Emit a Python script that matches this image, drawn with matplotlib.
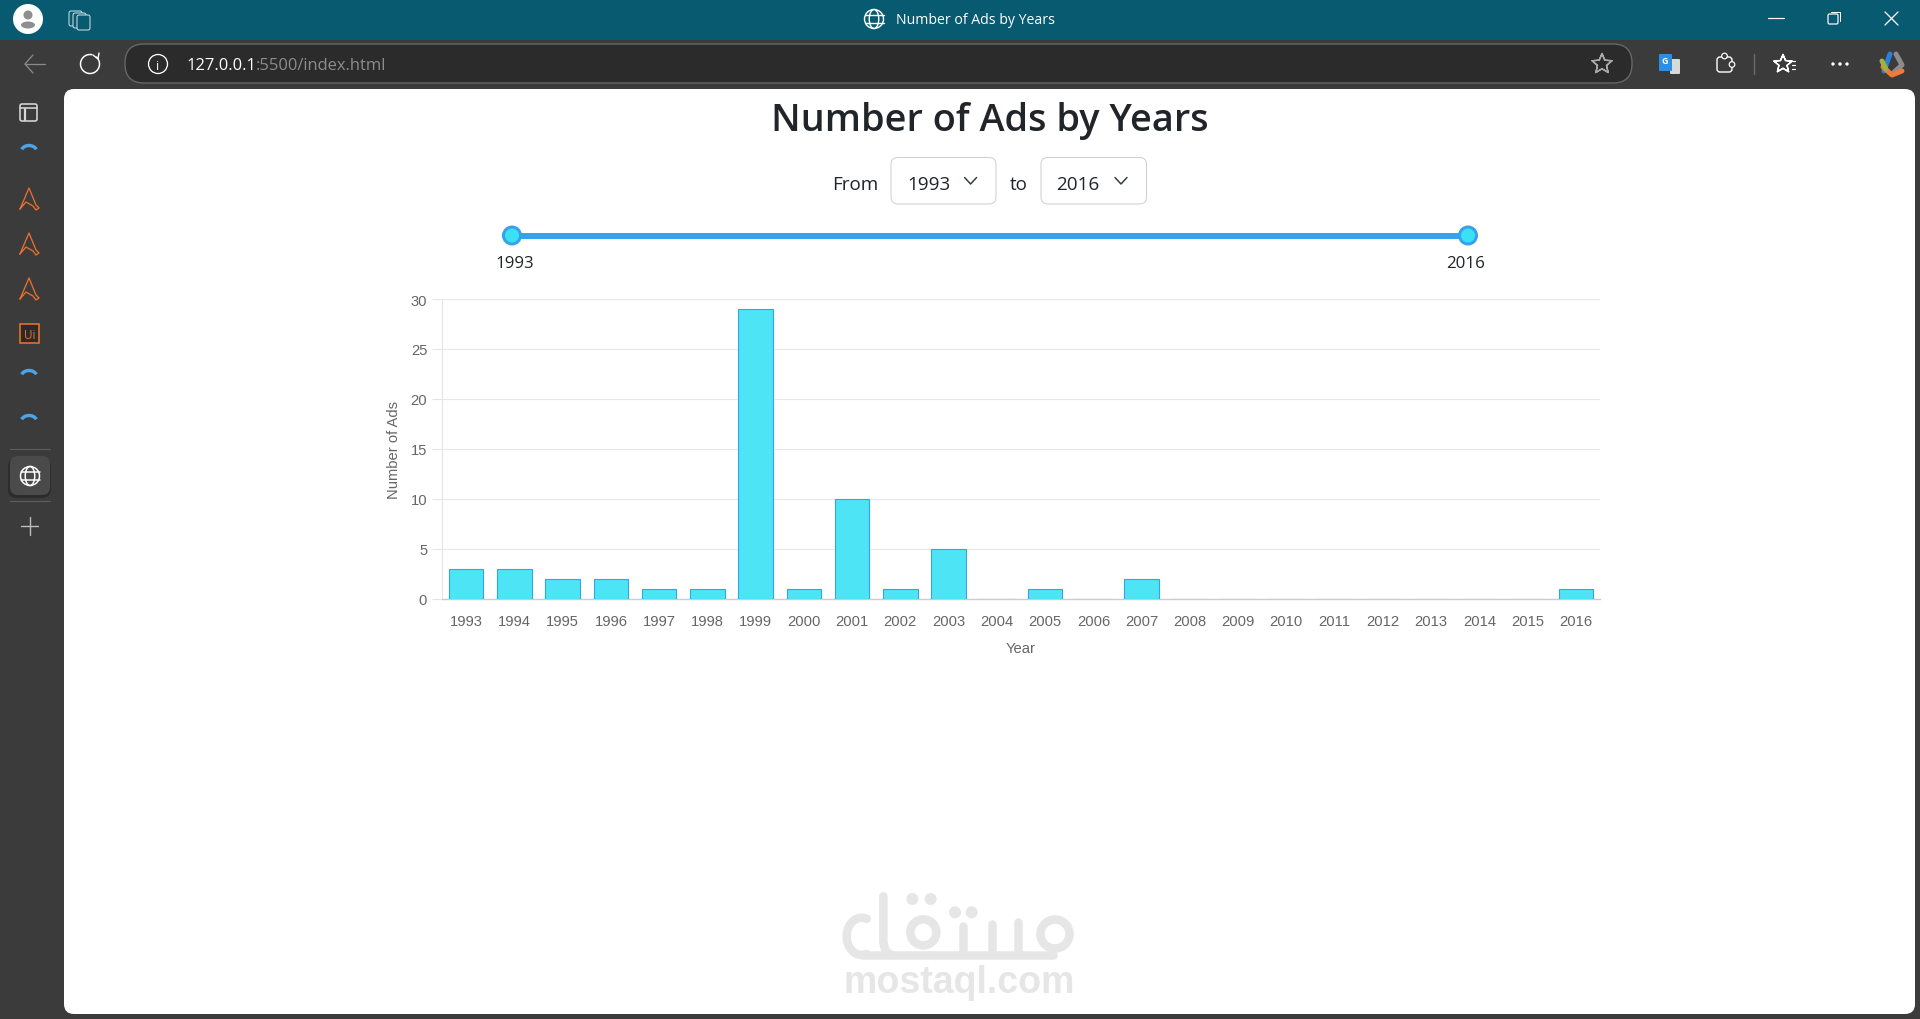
import numpy as np
import matplotlib
matplotlib.use("Agg")
import matplotlib.pyplot as plt
from matplotlib.patches import Circle, Ellipse, FancyBboxPatch, Rectangle, Arc

years = ["1993", "1994", "1995", "1996", "1997", "1998", "1999", "2000", "2001", "2002", "2003", "2004",
         "2005", "2006", "2007", "2008", "2009", "2010", "2011", "2012", "2013", "2014", "2015", "2016"]
ads = [3, 3, 2, 2, 1, 1, 29, 1, 10, 1, 5, 0, 1, 0, 2, 0, 0, 0, 0, 0, 0, 0, 0, 1]
y_ticks = [0, 5, 10, 15, 20, 25, 30]

W, H = 1920, 1020
PX = 0.72  # one pixel in points at dpi 100

ui_font = ["Open Sans", "DejaVu Sans"]
chart_font = ["Liberation Sans", "DejaVu Sans"]

fig = plt.figure(figsize=(W / 100, H / 100), dpi=100, facecolor="#3b3b3b")

# full window layer in pixel coordinates
bg = fig.add_axes([0, 0, 1, 1], zorder=0)
bg.set_xlim(0, W)
bg.set_ylim(H, 0)
bg.axis("off")


def box(x0, y0, x1, y1, r, fc, ec="none", lw=0, z=1):
    bg.add_patch(FancyBboxPatch((x0 + r, y0 + r), x1 - x0 - 2 * r, y1 - y0 - 2 * r,
                                boxstyle="round,pad=%g,rounding_size=%g" % (r, r),
                                fc=fc, ec=ec, lw=lw * PX, zorder=z))


def line(xs, ys, c, lw=1.5, z=3, cap="round"):
    bg.plot(xs, ys, color=c, lw=lw * PX, solid_capstyle=cap, solid_joinstyle="round", zorder=z)


def globe(x, y, r, c="white", lw=1.4):
    bg.add_patch(Circle((x, y), r, fc="none", ec=c, lw=lw * PX, zorder=4))
    bg.add_patch(Ellipse((x, y), r, 2 * r, fc="none", ec=c, lw=lw * PX, zorder=4))
    line([x - r, x + r], [y - r * 0.38, y - r * 0.38], c, lw, 4)
    line([x - r, x + r], [y + r * 0.38, y + r * 0.38], c, lw, 4)


def star(x, y, r, c, lw=1.4):
    ang = np.deg2rad(np.arange(-90, 631, 36))
    rad = np.where(np.arange(len(ang)) % 2 == 0, r, r * 0.45)
    line(x + rad * np.cos(ang), y + rad * np.sin(ang), c, lw, 4)


def arc_icon(x, y):
    # small dotted blue arc in the side bar
    bg.add_patch(Arc((x, y + 6), 16, 13, theta1=200, theta2=340, color="#4da3e6", lw=3.4 * PX, zorder=4))


def acrobat(x, y):
    c = "#e8702e"
    line([x - 9, x, x + 7, x + 10, x + 7, x + 4, x - 3, x - 9],
         [y + 10, y - 11, y + 6, y + 9, y + 11, y + 7, y + 3, y + 10], c, 1.3, 4)


# title bar, tool bar and page
bg.add_patch(Rectangle((0, 0), W, 40.5, fc="#075a70", ec="none", zorder=1))
box(64, 90, 1915, 1015, 10, "white", z=1)

bg.add_patch(Ellipse((28, 20), 30, 30, fc="white", ec="none", zorder=3))
bg.add_patch(Circle((28, 16), 4.5, fc="#8f8f8f", ec="none", zorder=4))
bg.add_patch(Ellipse((28, 26), 14, 7, fc="#8f8f8f", ec="none", zorder=4))
for dx, dy in [(0, 0), (4, 2), (8, 4)]:
    box(69 + dx, 12 + dy, 82 + dx, 27 + dy, 2, "#075a70", ec="#cfe0e4", lw=1, z=3 + dx)
globe(874, 20, 9.5)
bg.text(975, 21, "Number of Ads by Years", color="white", ha="center", va="center", fontsize=10.2, family=ui_font)
line([1768, 1784], [19, 19], "white", 1.2)
box(1828, 15, 1838, 25, 1.5, "none", ec="white", lw=1.2, z=3)
line([1831, 1840, 1840], [13, 13, 22], "white", 1)
line([1885, 1898], [13, 26], "white", 1.3)
line([1885, 1898], [26, 13], "white", 1.3)

# address bar row
line([25, 45], [65, 65], "#8a8a8a", 1.3)
line([33, 25, 33], [56, 65, 74], "#8a8a8a", 1.3)
bg.add_patch(Arc((90, 65), 19, 19, theta1=-50, theta2=285, color="white", lw=1.5 * PX, zorder=4))
line([93, 98, 99], [56, 60, 54], "white", 1.4)
box(125, 45, 1632, 84, 19, "#2b2b2b", ec="#666666", lw=1.4, z=2)
bg.add_patch(Circle((158, 65), 9.5, fc="none", ec="white", lw=1.3 * PX, zorder=4))
bg.text(158, 66, "i", color="white", ha="center", va="center", fontsize=9, family=ui_font)
bg.text(187, 66, "127.0.0.1", color="white", ha="left", va="center", fontsize=11.9, family=ui_font, zorder=4)
bg.text(256, 66, ":5500/index.html", color="#8c8c8c", ha="left", va="center", fontsize=11.9, family=ui_font, zorder=4)
star(1602, 65, 10.5, "#a8a8a8")
box(1659, 55, 1672, 72, 1, "#2b8fe8", z=4)
box(1670, 60, 1680, 75, 1, "#d8d8d8", z=3)
bg.text(1665, 62, "G", color="white", ha="center", va="center", fontsize=6.5, weight="bold", family=ui_font, zorder=5)
box(1717, 58, 1732, 73, 3, "none", ec="white", lw=1.4, z=4)
bg.add_patch(Circle((1724.5, 57), 2.8, fc="#3b3b3b", ec="white", lw=1.2 * PX, zorder=5))
bg.add_patch(Circle((1732, 65.5), 2.8, fc="#3b3b3b", ec="white", lw=1.2 * PX, zorder=5))
line([1754, 1754], [55, 75], "#6a6a6a", 1.4)
star(1783, 65, 9.5, "white")
for yy in [62, 66, 70]:
    line([1792, 1795], [yy, yy], "white", 1.2, 5)
for xx in [1833, 1840, 1847]:
    bg.add_patch(Circle((xx, 65), 1.7, fc="white", ec="none", zorder=4))
for pts, c in [(([1884, 1890], [72, 55]), "#2a7fd8"), (([1896, 1902, 1892], [55, 66, 75]), "#8c8c8c"),
               (([1883, 1892, 1902], [68, 76, 72]), "#ef7a3a"), (([1882, 1886], [62, 70]), "#a3b23a")]:
    line(pts[0], pts[1], c, 5, 4)

# side bar icons
box(20, 105, 37, 122, 2, "none", ec="#d6d6d6", lw=1.6, z=4)
line([25, 25], [110, 121], "#d6d6d6", 2.2)
line([20, 37], [109, 109], "#d6d6d6", 1.6)
arc_icon(29, 147)
acrobat(29, 200)
acrobat(29, 245)
acrobat(29, 290)
bg.add_patch(Rectangle((20, 325), 19, 19, fc="#2b2b2b", ec="#e8702e", lw=1.6 * PX, zorder=4))
bg.text(29.5, 336, "Ui", color="#e8702e", ha="center", va="center", fontsize=8.5, family=ui_font, zorder=5)
arc_icon(29, 372)
arc_icon(29, 417)
line([10, 50], [450, 450], "#5c5c5c", 1.2)
box(8, 459, 51, 499, 9, "#2c2c2c", z=2)
box(10, 457, 50, 496, 8, "#4a4a4a", z=3)
globe(30, 477, 9.5, lw=1.5)
line([10, 50], [502, 502], "#5c5c5c", 1.2)
line([21, 38], [527, 527], "#bdbdbd", 1.4)
line([29.5, 29.5], [518, 536], "#bdbdbd", 1.4)

# page heading and year selectors
bg.text(990, 121, "Number of Ads by Years", color="#212529", ha="center", va="center", fontsize=27.3, weight=600, family=ui_font, zorder=4)
bg.text(855.5, 185, "From", color="#212529", ha="center", va="center", fontsize=13.6, family=ui_font, zorder=4)
bg.text(1019, 185, "to", color="#212529", ha="center", va="center", fontsize=13.6, family=ui_font, zorder=4)
for x0, x1, label, tx, cx in [(891, 996, years[0], 928.6, 970.6), (1041, 1146.5, years[-1], 1078, 1121)]:
    box(x0, 158.5, x1, 205, 7, "white", ec="#cfcfcf", lw=1, z=3)
    bg.text(tx, 185, label, color="#212529", ha="center", va="center", fontsize=13.6, family=ui_font, zorder=4)
    line([cx - 6, cx, cx + 6], [178.5, 185, 178.5], "#343a40", 1.5)

# range slider
line([512, 1468], [236.5, 236.5], "#36a2eb", 6, 4, "butt")
for hx in [512, 1468]:
    bg.add_patch(Circle((hx, 236.5), 8.5, fc="#3ce0f5", ec="#36a2eb", lw=3 * PX, zorder=5))
bg.text(515, 264.5, years[0], color="#212529", ha="center", va="center", fontsize=12.2, family=ui_font, zorder=4)
bg.text(1466, 264.5, years[-1], color="#212529", ha="center", va="center", fontsize=12.2, family=ui_font, zorder=4)

# watermark in the page corner
wm = "#e6e6e6"
wm_w = 8.5


def wx(v):
    return 820 + np.asarray(v, dtype=float) / 3


def wy(v):
    return 880 + np.asarray(v, dtype=float) / 3


line(wx([130, 700]), wy([228, 228]), wm, wm_w)
t = np.deg2rad(np.arange(70, 300, 10))
line(wx(125 + 45 * np.cos(t)), wy(172 + 56 * np.sin(t)), wm, wm_w)
line(wx([190, 190, 196, 215]), wy([52, 190, 215, 228]), wm, wm_w)
bg.add_patch(Ellipse((wx(310), wy(160)), 26, 26, fc="none", ec=wm, lw=wm_w * PX, zorder=2))
bg.add_patch(Ellipse((wx(705), wy(165)), 29, 29, fc="none", ec=wm, lw=wm_w * PX, zorder=2))
for tooth_x, tooth_top in [(430, 140), (515, 135), (595, 130)]:
    line(wx([tooth_x, tooth_x]), wy([tooth_top, 225]), wm, wm_w)
for dot_x, dot_y in [(277, 60), (332, 60), (405, 100), (455, 100)]:
    bg.add_patch(Circle((wx(dot_x), wy(dot_y)), 6, fc=wm, ec="none", zorder=2))
bg.text(959, 983, "mostaql.com", color=wm, ha="center", va="center", fontsize=27, weight="bold", family=chart_font, zorder=2)

# bar chart
ax = fig.add_axes([442 / W, 1 - 599.5 / H, (1600 - 442) / W, 299.5 / H], zorder=2)
ax.patch.set_alpha(0)
x = np.arange(len(years))
ax.bar(x, ads, width=0.715, color="#4de5f6", edgecolor="#36a2eb", linewidth=0.8, zorder=3)
ax.set_xlim(-0.5, len(years) - 0.5)
ax.set_ylim(0, 30)
ax.set_xticks(x)
ax.set_xticklabels(years, fontsize=10.6, color="#666666", family=chart_font)
ax.set_yticks(y_ticks)
ax.set_yticklabels([str(v) for v in y_ticks], fontsize=10.6, color="#666666", family=chart_font)
ax.tick_params(axis="x", length=0, pad=11.5)
ax.tick_params(axis="y", length=7.2, width=0.8, color="#e5e5e5", pad=3.5)
ax.grid(axis="y", color="#e8e8e8", lw=0.8, zorder=0)
ax.set_axisbelow(True)
for side in ["top", "right"]:
    ax.spines[side].set_visible(False)
ax.spines["left"].set_color("#e5e5e5")
ax.spines["left"].set_linewidth(0.8)
ax.spines["bottom"].set_color("#cccccc")
ax.spines["bottom"].set_linewidth(1)
ax.set_xlabel("Year", fontsize=10.6, color="#666666", family=chart_font, labelpad=9)
ax.set_ylabel("Number of Ads", fontsize=10.6, color="#666666", family=chart_font, labelpad=6.5)

fig.savefig("out.png", dpi=100, facecolor=fig.get_facecolor())
